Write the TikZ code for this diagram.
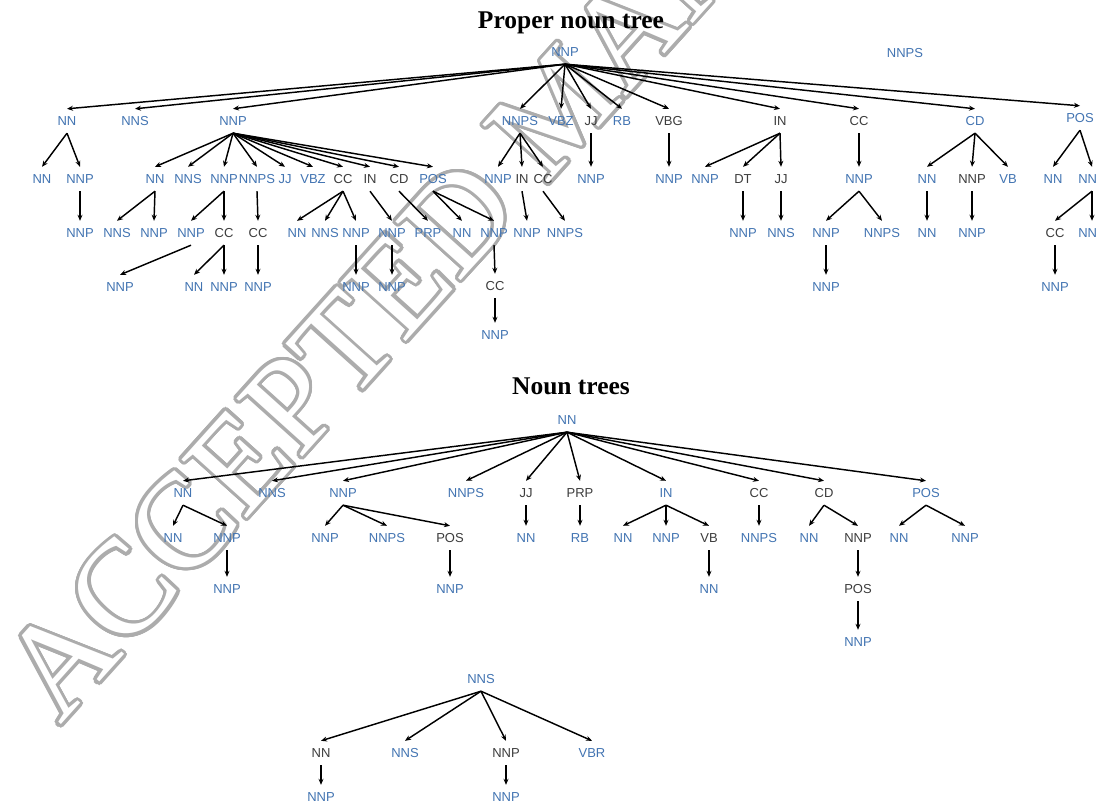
\documentclass[tikz,border=0pt]{standalone}
\usepackage{fontspec}
\setmainfont{Liberation Serif}
\newfontfamily\labsans{Liberation Sans}
\usetikzlibrary{arrows.meta}
\definecolor{tblue}{RGB}{66,116,178}
\definecolor{tgray}{RGB}{60,60,60}
\definecolor{wmcol}{RGB}{172,172,172}
\tikzset{
  lab/.style={font=\labsans\fontsize{13}{15}\selectfont, inner sep=0pt, minimum height=24pt, anchor=center},
  blu/.style={lab, text=tblue},
  gry/.style={lab, text=tgray},
  ttl/.style={font=\rmfamily\bfseries\fontsize{25.5}{28}\selectfont, inner sep=0pt, anchor=base},
  wmk/.style={font=\rmfamily\fontsize{134}{134}\selectfont, inner sep=0pt, anchor=base west, rotate=48},
  arr/.style={-{Stealth[length=6pt,width=5pt]}, line width=1.45pt, black}
}
\begin{document}
\begin{tikzpicture}[x=1pt,y=-1pt]
\fill[white] (0,0) rectangle (1097,805);
\useasboundingbox (0,0) rectangle (1097,805);
% watermark
\coordinate (wm) at (60,726);
\foreach \a in {0,15,...,345}
  \node[wmk, text=wmcol] at ([shift={(\a:3.2pt)}]wm) {ACCEPTED MANUSCRIPT};
\node[wmk, text=white] at (wm) {ACCEPTED MANUSCRIPT};

% ---------- Proper noun tree ----------
\node[ttl] (T1) at (571,29) {Proper noun tree};
\node[blu] (R) at (565,52) {NNP};
\node[blu] (Rnnps) at (905,53) {NNPS};
\node[blu] (A1) at (67,121) {NN};
\node[blu] (A2) at (135,121) {NNS};
\node[blu] (A3) at (233,121) {NNP};
\node[blu] (A4) at (520,121) {NNPS};
\node[blu] (A5) at (561,121) {VBZ};
\node[gry] (A6) at (591,121) {JJ};
\node[blu] (A7) at (622,121) {RB};
\node[gry] (A8) at (669,121) {VBG};
\node[gry] (A9) at (780,121) {IN};
\node[gry] (A10) at (859,121) {CC};
\node[blu] (A11) at (975,121) {CD};
\node[blu] (A12) at (1080,118) {POS};
% level 2
\node[blu] (B1) at (42,179) {NN};
\node[blu] (B2) at (80,179) {NNP};
\node[blu] (B3) at (155,179) {NN};
\node[blu] (B4) at (188,179) {NNS};
\node[blu] (B5) at (224,179) {NNP};
\node[blu] (B6) at (257,179) {NNPS};
\node[blu] (B7) at (285,179) {JJ};
\node[blu] (B8) at (313,179) {VBZ};
\node[gry] (B9) at (343,179) {CC};
\node[gry] (B10) at (370,179) {IN};
\node[gry] (B11) at (399,179) {CD};
\node[blu] (B12) at (433,179) {POS};
\node[blu] (B13) at (498,179) {NNP};
\node[gry] (B14) at (522,179) {IN};
\node[gry] (B15) at (543,179) {CC};
\node[blu] (B16) at (591,179) {NNP};
\node[blu] (B17) at (669,179) {NNP};
\node[blu] (B18) at (705,179) {NNP};
\node[gry] (B19) at (743,179) {DT};
\node[gry] (B20) at (781,179) {JJ};
\node[blu] (B21) at (859,179) {NNP};
\node[blu] (B22) at (927,179) {NN};
\node[gry] (B23) at (972,179) {NNP};
\node[blu] (B24) at (1008,179) {VB};
\node[blu] (B25) at (1053,179) {NN};
\node[blu] (B26) at (1092,179) {NNP};
% level 3
\node[blu] (C1) at (80,233) {NNP};
\node[blu] (C2) at (117,233) {NNS};
\node[blu] (C3) at (154,233) {NNP};
\node[blu] (C4) at (191,233) {NNP};
\node[gry] (C5) at (224,233) {CC};
\node[gry] (C6) at (258,233) {CC};
\node[blu] (C7) at (297,233) {NN};
\node[blu] (C8) at (325,233) {NNS};
\node[blu] (C9) at (356,233) {NNP};
\node[blu] (C10) at (392,233) {NNP};
\node[blu] (C11) at (428,233) {PRP};
\node[blu] (C12) at (462,233) {NN};
\node[blu] (C13) at (494,233) {NNP};
\node[blu] (C14) at (527,233) {NNP};
\node[blu] (C15) at (565,233) {NNPS};
\node[blu] (C16) at (743,233) {NNP};
\node[blu] (C17) at (781,233) {NNS};
\node[blu] (C18) at (826,233) {NNP};
\node[blu] (C19) at (882,233) {NNPS};
\node[blu] (C20) at (927,233) {NN};
\node[blu] (C21) at (972,233) {NNP};
\node[gry] (C22) at (1055,233) {CC};
\node[blu] (C23) at (1092,233) {NNP};
% level 4
\node[blu] (D1) at (120,287) {NNP};
\node[blu] (D2) at (194,287) {NN};
\node[blu] (D3) at (224,287) {NNP};
\node[blu] (D4) at (258,287) {NNP};
\node[blu] (D5) at (356,287) {NNP};
\node[blu] (D6) at (392,287) {NNP};
\node[gry] (D7) at (495,286) {CC};
\node[blu] (D8) at (826,287) {NNP};
\node[blu] (D9) at (1055,287) {NNP};
\node[blu] (E1) at (495,335) {NNP};

\foreach \p/\c in {R/A1,R/A2,R/A3,R/A4,R/A5,R/A6,R/A7,R/A8,R/A9,R/A10,R/A11,R/A12,
  A1/B1,A1/B2,A3/B3,A3/B4,A3/B5,A3/B6,A3/B7,A3/B8,A3/B9,A3/B10,A3/B11,A3/B12,
  A4/B13,A4/B14,A4/B15,A6/B16,A8/B17,A9/B18,A9/B19,A9/B20,A10/B21,
  A11/B22,A11/B23,A11/B24,A12/B25,A12/B26,
  B2/C1,B3/C2,B3/C3,B5/C4,B5/C5,B6/C6,B9/C7,B9/C8,B9/C9,B10/C10,B11/C11,
  B12/C12,B12/C13,B14/C14,B15/C15,B19/C16,B20/C17,B21/C18,B21/C19,B22/C20,
  B23/C21,B26/C22,B26/C23,
  C4/D1,C5/D2,C5/D3,C6/D4,C9/D5,C10/D6,C13/D7,C18/D8,C22/D9,D7/E1}
  \draw[arr] (\p.south) -- (\c.north);

% ---------- Noun trees ----------
\node[ttl] (T2) at (571,394) {Noun trees};
\node[blu] (N) at (567,420) {NN};
\node[blu] (M1) at (183,493) {NN};
\node[blu] (M2) at (272,493) {NNS};
\node[blu] (M3) at (343,493) {NNP};
\node[blu] (M4) at (466,493) {NNPS};
\node[gry] (M5) at (526,493) {JJ};
\node[gry] (M6) at (580,493) {PRP};
\node[blu] (M7) at (666,493) {IN};
\node[gry] (M8) at (759,493) {CC};
\node[gry] (M9) at (824,493) {CD};
\node[blu] (M10) at (926,493) {POS};
\node[blu] (K1) at (173,538) {NN};
\node[blu] (K2) at (227,538) {NNP};
\node[blu] (K3) at (325,538) {NNP};
\node[blu] (K4) at (387,538) {NNPS};
\node[gry] (K5) at (450,538) {POS};
\node[blu] (K6) at (526,538) {NN};
\node[blu] (K7) at (580,538) {RB};
\node[blu] (K8) at (623,538) {NN};
\node[blu] (K9) at (666,538) {NNP};
\node[gry] (K10) at (709,538) {VB};
\node[blu] (K11) at (759,538) {NNPS};
\node[blu] (K12) at (809,538) {NN};
\node[gry] (K13) at (858,538) {NNP};
\node[blu] (K14) at (899,538) {NN};
\node[blu] (K15) at (965,538) {NNP};
\node[blu] (J1) at (227,589) {NNP};
\node[blu] (J2) at (450,589) {NNP};
\node[blu] (J3) at (709,589) {NN};
\node[gry] (J4) at (858,589) {POS};
\node[blu] (H1) at (858,642) {NNP};

\foreach \p/\c in {N/M1,N/M2,N/M3,N/M4,N/M5,N/M6,N/M7,N/M8,N/M9,N/M10,
  M1/K1,M1/K2,M3/K3,M3/K4,M3/K5,M5/K6,M6/K7,M7/K8,M7/K9,M7/K10,M8/K11,
  M9/K12,M9/K13,M10/K14,M10/K15,K2/J1,K5/J2,K10/J3,K13/J4,J4/H1}
  \draw[arr] (\p.south) -- (\c.north);

% ---------- NNS tree ----------
\node[blu] (S) at (481,679) {NNS};
\node[gry] (S1) at (321,753) {NN};
\node[blu] (S2) at (405,753) {NNS};
\node[gry] (S3) at (506,753) {NNP};
\node[blu] (S4) at (592,753) {VBR};
\node[blu] (S5) at (321,797) {NNP};
\node[blu] (S6) at (506,797) {NNP};
\foreach \p/\c in {S/S1,S/S2,S/S3,S/S4,S1/S5,S3/S6}
  \draw[arr] (\p.south) -- (\c.north);
\end{tikzpicture}
\end{document}
